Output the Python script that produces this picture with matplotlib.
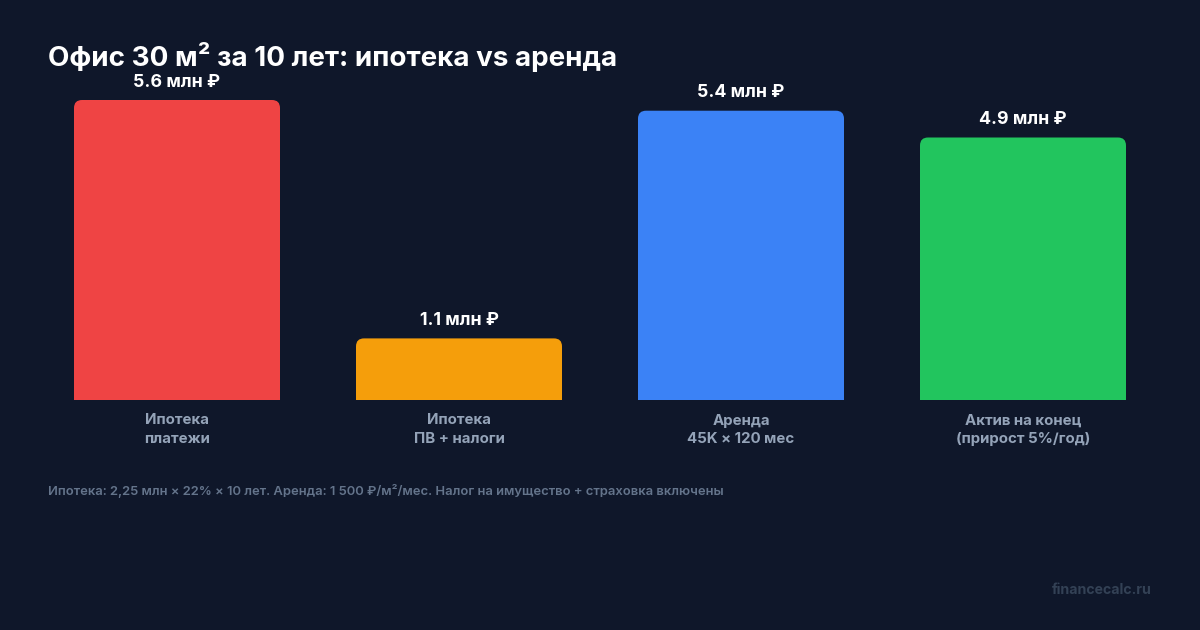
import matplotlib
matplotlib.use("Agg")
import matplotlib.pyplot as plt
from matplotlib.patches import FancyBboxPatch, Rectangle

plt.rcParams['font.family'] = ['Inter', 'DejaVu Sans']

categories = ["Ипотека\nплатежи", "Ипотека\nПВ + налоги", "Аренда\n45K × 120 мес", "Актив на конец\n(прирост 5%/год)"]
values = [5.6, 1.15, 5.4, 4.9]
value_labels = ["5.6 млн ₽", "1.1 млн ₽", "5.4 млн ₽", "4.9 млн ₽"]
colors = ["#ef4444", "#f59e0b", "#3b82f6", "#22c55e"]
title = "Офис 30 м² за 10 лет: ипотека vs аренда"
footnote = "Ипотека: 2,25 млн × 22% × 10 лет. Аренда: 1 500 ₽/м²/мес. Налог на имущество + страховка включены"
watermark = "financecalc.ru"

BG = "#0f172a"
W, H = 1200, 630
fig = plt.figure(figsize=(12, 6.3), dpi=100, facecolor=BG)

# axes: x 36..1164 px, y 100..400 px
ax = fig.add_axes([36 / W, (H - 400) / H, (1164 - 36) / W, 300 / H])
ax.set_facecolor(BG)
ax.set_xlim(-0.5, len(values) - 0.5)
ax.set_ylim(0, max(values))
for s in ax.spines.values():
    s.set_visible(False)
ax.set_xticks([])
ax.set_yticks([])

width = 206 / 282
bars = ax.bar(range(len(values)), values, width=width, color=colors)

px_x = 1 / 282.0                 # data x per pixel
px_y = max(values) / 300.0       # data y per pixel
r = 8 * px_x
aspect = px_y / px_x
for b, c in zip(bars, colors):
    x0, w, h = b.get_x(), b.get_width(), b.get_height()
    b.set_visible(False)
    p = FancyBboxPatch((x0 + r, r * aspect), w - 2 * r, h - 2 * r * aspect,
                       boxstyle=f"round,pad={r},rounding_size={r}",
                       mutation_aspect=aspect, fc=c, ec="none", clip_on=False)
    ax.add_patch(p)
    ax.add_patch(Rectangle((x0, 0), w, h / 2, fc=c, ec="none"))

for i, (v, lab) in enumerate(zip(values, value_labels)):
    ax.annotate(lab, (i, v), xytext=(0, 18 * 0.72), textcoords="offset points",
                ha="center", va="center", color="white", fontsize=12.8, fontweight="bold")

for i, cat in enumerate(categories):
    ax.annotate(cat, (i, 0), xytext=(0, -13.5 * 0.72), textcoords="offset points",
                ha="center", va="top", color="#94a3b8", fontsize=10.8, fontweight="bold",
                linespacing=1.4)

fig.text(48 / W, 1 - 57 / H, title, ha="left", va="center", color="white",
         fontsize=20, fontweight="bold")
fig.text(48 / W, 1 - 491 / H, footnote, ha="left", va="center", color="#64748b",
         fontsize=9.35, fontweight="semibold")
fig.text(1152 / W, 1 - 590 / H, watermark, ha="right", va="center", color="#334155",
         fontsize=10.2, fontweight="bold")

fig.savefig("out.png", dpi=100, facecolor=BG)
